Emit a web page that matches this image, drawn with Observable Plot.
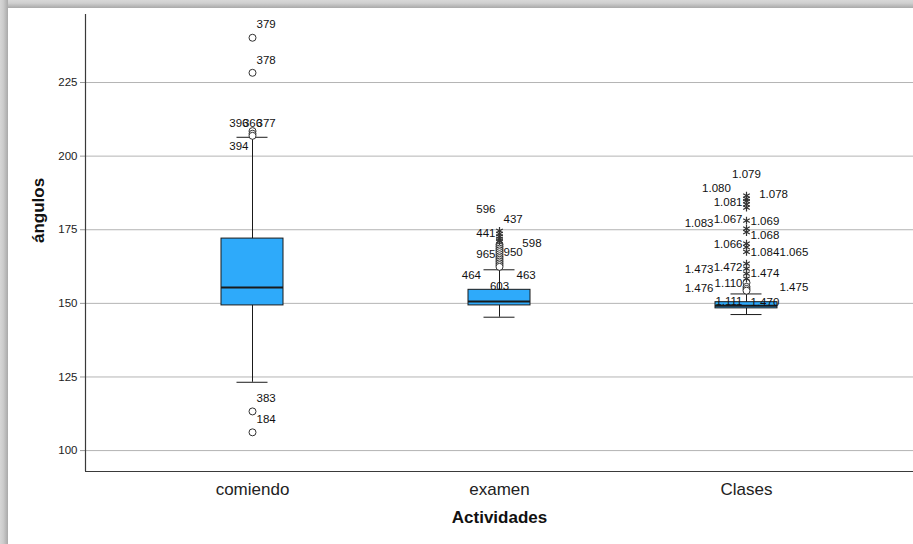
<!DOCTYPE html>
<html>
<head>
<meta charset="utf-8">
<script src="https://cdn.jsdelivr.net/npm/d3@7"></script>
<script src="https://cdn.jsdelivr.net/npm/@observablehq/plot@0.6"></script>
<style>
  html, body { margin: 0; padding: 0; background: #fff; overflow: hidden; }
  #page { position: relative; width: 913px; height: 544px; overflow: hidden; background: #fff; }
  #shadeTop { position: absolute; left: 0; top: 0; width: 913px; height: 8px;
              background: linear-gradient(to bottom, #d8d8d8 0%, #cfcfcf 40%, #a9a9a9 100%); }
  #shadeLeft { position: absolute; left: 0; top: 0; width: 8px; height: 544px;
               background: linear-gradient(to right, #d6d6d6 0%, #cccccc 40%, #a9a9a9 100%); }
  #chart { position: absolute; left: 0; top: 0; width: 913px; height: 544px; }
  #chart svg { font-family: "Liberation Sans", Arial, sans-serif; max-width: none; }
</style>
</head>
<body>
<div id="page"><div id="shadeTop"></div><div id="shadeLeft"></div><div id="chart"></div></div>
<script>
// Activities (x categories)
const groups = ["comiendo", "examen", "Clases"];

// Box-plot summary per activity (ángulos)
const q1 = [149.3, 149.3, 148.3];
const medians = [155.4, 150.6, 149.2];
const q3 = [172.0, 154.6, 150.4];
const whiskerLow = [123.2, 145.3, 146.2];
const whiskerHigh = [206.4, 161.4, 153.2];

// Outliers (circles) and extreme values (asterisks)
const comiendoOutliers = [240.2, 228.3, 208.5, 207.6, 206.9, 113.3, 106.2];
const examenOutliers = [170.0, 169.3, 168.6, 168.0, 167.4, 166.7, 166.0, 165.4, 164.8, 164.2, 163.6, 163.0, 162.4];
const examenExtremes = [174.6, 173.6, 172.7, 171.9, 171.1];
const clasesOutliers = [157.0, 155.6, 154.9, 154.3];
const clasesExtremes = [186.6, 185.5, 184.7, 183.6, 182.5, 178.1, 175.4, 174.2, 170.3, 169.1, 167.5, 163.5, 161.8, 160.1, 158.4];

// Case labels: where each sits (value) and which column beside the box (lane)
const caseLabels = [
  {group: "comiendo", id: "379", value: 244.7, lane: 1},
  {group: "comiendo", id: "378", value: 232.7, lane: 1},
  {group: "comiendo", id: "396", value: 211.2, lane: -1},
  {group: "comiendo", id: "366", value: 211.2, lane: 0},
  {group: "comiendo", id: "377", value: 211.2, lane: 1},
  {group: "comiendo", id: "394", value: 203.3, lane: -1},
  {group: "comiendo", id: "383", value: 117.7, lane: 1},
  {group: "comiendo", id: "184", value: 110.5, lane: 1},
  {group: "examen", id: "596", value: 181.9, lane: -1},
  {group: "examen", id: "437", value: 178.7, lane: 1},
  {group: "examen", id: "441", value: 173.8, lane: -1},
  {group: "examen", id: "598", value: 170.5, lane: 1.65},
  {group: "examen", id: "965", value: 166.8, lane: -1},
  {group: "examen", id: "950", value: 167.4, lane: 1},
  {group: "examen", id: "464", value: 159.4, lane: -1.5},
  {group: "examen", id: "463", value: 159.4, lane: 1.45},
  {group: "examen", id: "603", value: 155.8, lane: 0},
  {group: "Clases", id: "1.079", value: 193.8, lane: 0},
  {group: "Clases", id: "1.080", value: 189.2, lane: -1.4},
  {group: "Clases", id: "1.078", value: 187.2, lane: 1.3},
  {group: "Clases", id: "1.081", value: 184.3, lane: -1},
  {group: "Clases", id: "1.083", value: 177.3, lane: -2},
  {group: "Clases", id: "1.067", value: 178.4, lane: -1},
  {group: "Clases", id: "1.069", value: 178.0, lane: 1},
  {group: "Clases", id: "1.068", value: 173.0, lane: 1},
  {group: "Clases", id: "1.066", value: 170.2, lane: -1},
  {group: "Clases", id: "1.084", value: 167.2, lane: 1},
  {group: "Clases", id: "1.065", value: 167.2, lane: 2},
  {group: "Clases", id: "1.473", value: 161.5, lane: -2},
  {group: "Clases", id: "1.472", value: 162.3, lane: -1},
  {group: "Clases", id: "1.474", value: 160.2, lane: 1},
  {group: "Clases", id: "1.476", value: 155.1, lane: -2},
  {group: "Clases", id: "1.110", value: 156.8, lane: -1},
  {group: "Clases", id: "1.475", value: 155.5, lane: 2},
  {group: "Clases", id: "1.111", value: 150.7, lane: -1},
  {group: "Clases", id: "1.470", value: 150.4, lane: 1}
];

const yTicks = [100, 125, 150, 175, 200, 225];
const yDomain = [92.9, 248.1];

const boxes = groups.map((g, i) => ({
  group: g, q1: q1[i], median: medians[i], q3: q3[i], low: whiskerLow[i], high: whiskerHigh[i]
}));
const outliers = [
  ...comiendoOutliers.map(v => ({group: "comiendo", value: v})),
  ...examenOutliers.map(v => ({group: "examen", value: v})),
  ...clasesOutliers.map(v => ({group: "Clases", value: v}))
];
const extremes = [
  ...examenExtremes.map(v => ({group: "examen", value: v})),
  ...clasesExtremes.map(v => ({group: "Clases", value: v}))
];

const W = 913, H = 544, mL = 85, mR = 0, mT = 14, mB = 73;
const boxFill = "#2eaafa";
const ink = "#1a1a1a";
const axisInk = "#3a3a3a";
const labelFont = {fontSize: 11.5, fill: "#111"};

// one text mark per lane, since offset and anchor are per-mark options
const lanes = [...new Set(caseLabels.map(d => d.lane))];
const laneMarks = lanes.map(lane => {
  const mag = 4 + (Math.abs(lane) - 1) * 29;
  return Plot.text(caseLabels.filter(d => d.lane === lane), {
    x: "group", y: "value", text: "id",
    textAnchor: lane === 0 ? "middle" : lane > 0 ? "start" : "end",
    dx: lane === 0 ? 0 : Math.sign(lane) * mag,
    ...labelFont
  });
});

const chart = Plot.plot({
  width: W,
  height: H,
  marginLeft: mL,
  marginRight: mR,
  marginTop: mT,
  marginBottom: mB,
  style: {background: "transparent", fontFamily: "Liberation Sans, Arial, sans-serif"},
  x: {type: "band", domain: groups, paddingInner: 0.747, paddingOuter: 0.543, label: null},
  y: {domain: yDomain, label: null},
  marks: [
    Plot.gridY(yTicks, {stroke: "#b4b4b4", strokeOpacity: 1}),
    Plot.axisY(yTicks, {tickSize: 5, tickPadding: 3, stroke: "#9a9a9a", fill: "#222", fontSize: 11.5, label: null}),
    Plot.axisX({tickSize: 0, tickPadding: 11, fontSize: 17, fill: "#222", label: null}),
    // axis lines: bottom along the y minimum, left along the frame's left edge
    Plot.ruleY([yDomain[0]], {stroke: axisInk, strokeWidth: 1.2}),
    Plot.ruleX([0], {x: null, y1: yDomain[0], y2: yDomain[1], dx: -(W - mL - mR) / 2, stroke: axisInk, strokeWidth: 1.2}),
    // whiskers
    Plot.ruleX(boxes, {x: "group", y1: "low", y2: "high", stroke: ink, strokeWidth: 1}),
    Plot.tickY(boxes, {x: "group", y: "low", stroke: ink, insetLeft: 15.5, insetRight: 15.5}),
    Plot.tickY(boxes, {x: "group", y: "high", stroke: ink, insetLeft: 15.5, insetRight: 15.5}),
    // boxes and medians
    Plot.barY(boxes, {x: "group", y1: "q1", y2: "q3", fill: boxFill, stroke: ink, strokeWidth: 1}),
    Plot.tickY(boxes, {x: "group", y: "median", stroke: ink, strokeWidth: 2}),
    // outliers and extremes
    Plot.dot(outliers, {x: "group", y: "value", r: 3.5, stroke: "#333", fill: "white", strokeWidth: 1}),
    Plot.dot(extremes, {x: "group", y: "value", symbol: "asterisk", r: 3.6, stroke: "#333", strokeWidth: 1.2}),
    ...laneMarks,
    // axis titles
    Plot.text(["ángulos"], {frameAnchor: "left", dx: -47, rotate: -90, fontSize: 17, fontWeight: "bold", fill: "#111"}),
    Plot.text(["Actividades"], {frameAnchor: "bottom", dy: 51, fontSize: 17, fontWeight: "bold", fill: "#111"})
  ]
});
document.getElementById("chart").appendChild(chart);
</script>
</body>
</html>
